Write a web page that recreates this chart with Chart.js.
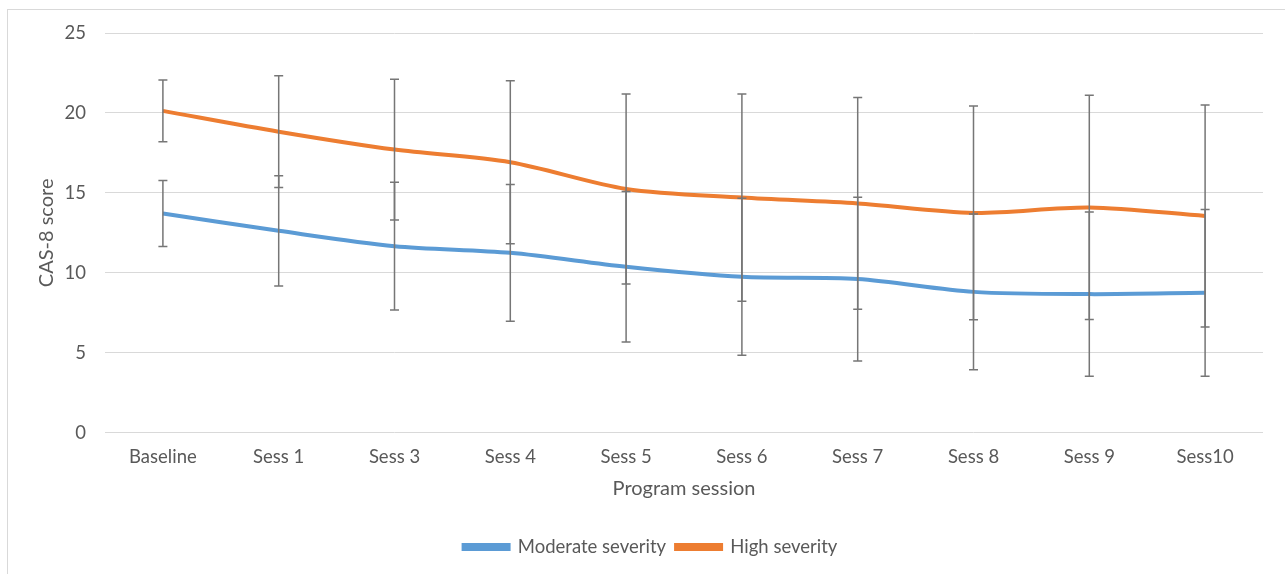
<!DOCTYPE html>
<html>
<head>
<meta charset="utf-8">
<script src="https://cdn.jsdelivr.net/npm/chart.js@4.4.1/dist/chart.umd.min.js"></script>
<style>
  html, body { margin: 0; padding: 0; background: #fff; overflow: hidden; }
  #wrap { position: relative; width: 1285px; height: 574px; }
  #frame { position: absolute; left: 7px; top: 9px; width: 1300px; height: 600px; border: 1px solid #d9d9d9; pointer-events: none; }
</style>
</head>
<body>
<div id="wrap">
  <div id="frame"></div>
  <canvas id="chart" width="1285" height="574"></canvas>
</div>
<script>
// Sessões do programa
const sessoes = ['Baseline', 'Sess 1', 'Sess 3', 'Sess 4', 'Sess 5', 'Sess 6', 'Sess 7', 'Sess 8', 'Sess 9', 'Sess10'];

// Médias e desvios
const moderada = [13.71, 12.63, 11.67, 11.25, 10.38, 9.75, 9.61, 8.81, 8.67, 8.75];
const moderadaSD = [2.06, 3.45, 4.0, 4.27, 4.7, 4.91, 5.12, 4.87, 5.13, 5.21];
const alta = [20.13, 18.83, 17.71, 16.92, 15.25, 14.71, 14.34, 13.75, 14.09, 13.56];
const altaSD = [1.93, 3.5, 4.4, 5.1, 5.94, 6.48, 6.62, 6.69, 7.01, 6.94];

const yTicks = [0, 5, 10, 15, 20, 25];

const corTexto = '#595959';
const fonte = 'Lato, "Liberation Sans", sans-serif';

// Plugin simples para as barras de erro (desenhadas por cima das linhas)
const barrasErro = {
    id: 'barrasErro',
    afterDatasetsDraw(chart) {
        const ctx = chart.ctx;
        const y = chart.scales.y;
        ctx.save();
        ctx.strokeStyle = '#767676';
        ctx.lineWidth = 1.5;
        chart.data.datasets.forEach((ds, i) => {
            const meta = chart.getDatasetMeta(i);
            meta.data.forEach((pt, j) => {
                const sd = ds.sd[j];
                const yTop = y.getPixelForValue(ds.data[j] + sd);
                const yBot = y.getPixelForValue(ds.data[j] - sd);
                const x = pt.x;
                ctx.beginPath();
                ctx.moveTo(x, yTop); ctx.lineTo(x, yBot);
                ctx.moveTo(x - 4.5, yTop); ctx.lineTo(x + 4.5, yTop);
                ctx.moveTo(x - 4.5, yBot); ctx.lineTo(x + 4.5, yBot);
                ctx.stroke();
            });
        });
        ctx.restore();
    }
};

const ctx = document.getElementById('chart').getContext('2d');
new Chart(ctx, {
    type: 'line',
    data: {
        labels: sessoes,
        datasets: [
            {
                label: 'Moderate severity',
                data: moderada,
                sd: moderadaSD,
                borderColor: '#5B9BD5',
                backgroundColor: '#5B9BD5',
                borderWidth: 4,
                pointRadius: 0,
                tension: 0.3
            },
            {
                label: 'High severity',
                data: alta,
                sd: altaSD,
                borderColor: '#ED7D31',
                backgroundColor: '#ED7D31',
                borderWidth: 4,
                pointRadius: 0,
                tension: 0.3
            }
        ]
    },
    options: {
        responsive: false,
        animation: false,
        layout: { padding: { left: 38, right: 22, top: 33, bottom: 7.75 } },
        scales: {
            x: {
                offset: true,
                grid: { display: false, drawTicks: false },
                border: { display: false },
                ticks: { color: corTexto, font: { family: fonte, size: 18.5 }, padding: 13, maxRotation: 0 },
                title: { display: true, text: 'Program session', color: corTexto, font: { family: fonte, size: 20 }, padding: { top: 0, bottom: 26.75 } },
                afterFit: (s) => { s.height = 95; }
            },
            y: {
                min: 0,
                max: 25,
                afterBuildTicks: (s) => { s.ticks = yTicks.map(v => ({ value: v })); },
                grid: { color: '#d9d9d9', lineWidth: 1, drawTicks: false },
                border: { display: false },
                ticks: { color: corTexto, font: { family: fonte, size: 18.5 }, padding: 19 },
                title: { display: true, text: 'CAS-8 score', color: corTexto, font: { family: fonte, size: 20 }, padding: { top: -3, bottom: 0 } },
                afterFit: (s) => { s.width = 67; }
            }
        },
        plugins: {
            legend: {
                position: 'bottom',
                labels: {
                    color: corTexto,
                    font: { family: fonte, size: 18.5 },
                    boxWidth: 45,
                    boxHeight: 4,
                    padding: 10
                }
            },
            tooltip: { enabled: false }
        }
    },
    plugins: [barrasErro]
});
</script>
</body>
</html>
